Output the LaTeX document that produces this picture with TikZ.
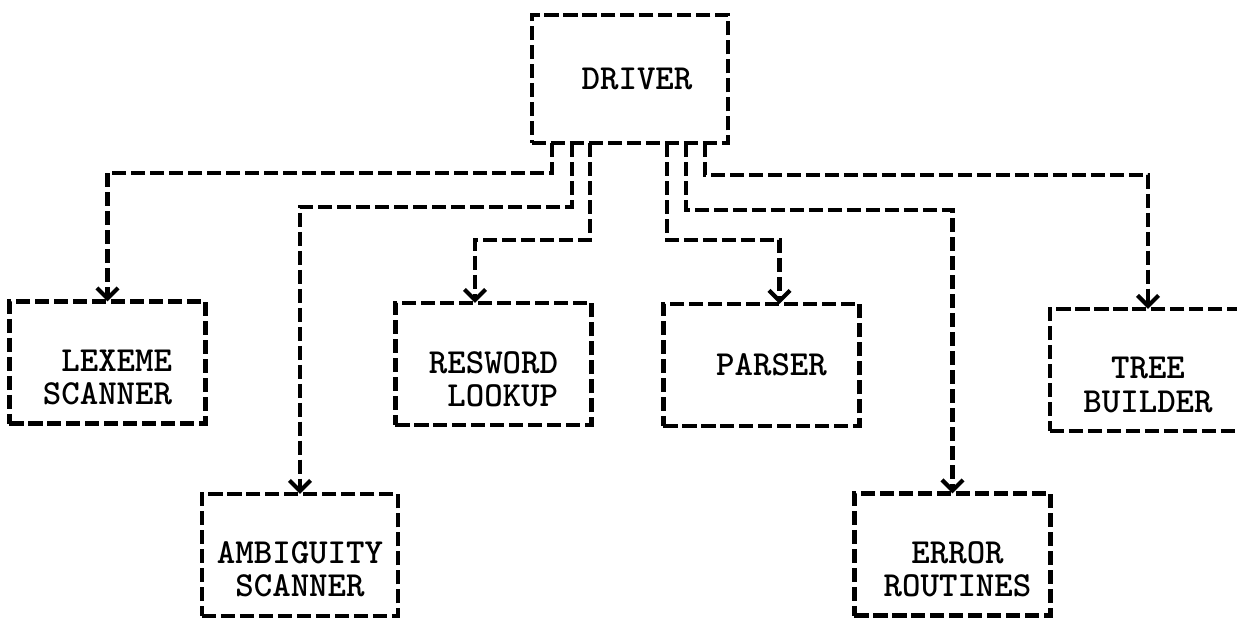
\documentclass[tikz,border=0pt]{standalone}
\usetikzlibrary{arrows.meta}

\begin{document}
\begin{tikzpicture}[x=0.01cm, y=-0.01cm,
    module/.style={draw, line width=1.2pt, dash pattern=on 4pt off 1.4pt,
      inner sep=0pt, outer sep=0pt, minimum width=1.96cm, minimum height=1.22cm},
    caption/.style={inner sep=0pt,
      font=\fontsize{10}{9.5}\selectfont\ttfamily\bfseries},
    link/.style={line width=1.2pt, dash pattern=on 4pt off 1.4pt,
      -{Straight Barb[length=3pt,width=6pt,line width=1.2pt]}}]

  \useasboundingbox (0,0) rectangle (1237,621);

  % --- modules ---
  \node[module, minimum height=1.28cm] (driver) at (630,79) {};

  \node[module] (lexeme)  at (107.5,362.5) {};
  \node[module] (resword) at (493.5,364)   {};
  \node[module] (parser)  at (761.5,365)   {};
  \node[module] (tree)    at (1148,370)    {};

  \node[module] (ambig)   at (300,555)     {};
  \node[module] (error)   at (952.5,554.5) {};

  % --- captions (sit a bit low in the two-line boxes) ---
  \node[caption] (driverT) at ([xshift=0.07cm]driver.center) {DRIVER};
  \node[caption, align=right]  (lexemeT)  at ([yshift=-0.15cm]lexeme.center)  {LEXEME\\SCANNER};
  \node[caption, align=right]  (reswordT) at ([yshift=-0.15cm]resword.center) {RESWORD\\LOOKUP};
  \node[caption] (parserT) at ([xshift=0.1cm]parser.center) {PARSER};
  \node[caption, align=center] (treeT)    at ([yshift=-0.15cm]tree.center)    {TREE\\BUILDER};
  \node[caption, align=center] (ambigT)   at ([yshift=-0.14cm]ambig.center)   {AMBIGUITY\\SCANNER};
  \node[caption, align=center] (errorT)   at ([xshift=0.05cm,yshift=-0.15cm]error.center) {ERROR\\ROUTINES};

  % --- calls out of the driver: tap x / bend y / target / shift of the tip ---
  \foreach \x/\y/\t/\s in {552/173/lexeme/0, 572/207/ambig/0, 590/240/resword/-0.185,
                           667/240/parser/0.18, 686/210/error/0, 705/175/tree/0}{
    \draw[link] (\x,\y |- driver.south) -- (\x,\y) -| ([xshift=\s cm]\t.north);
  }

\end{tikzpicture}
\end{document}
